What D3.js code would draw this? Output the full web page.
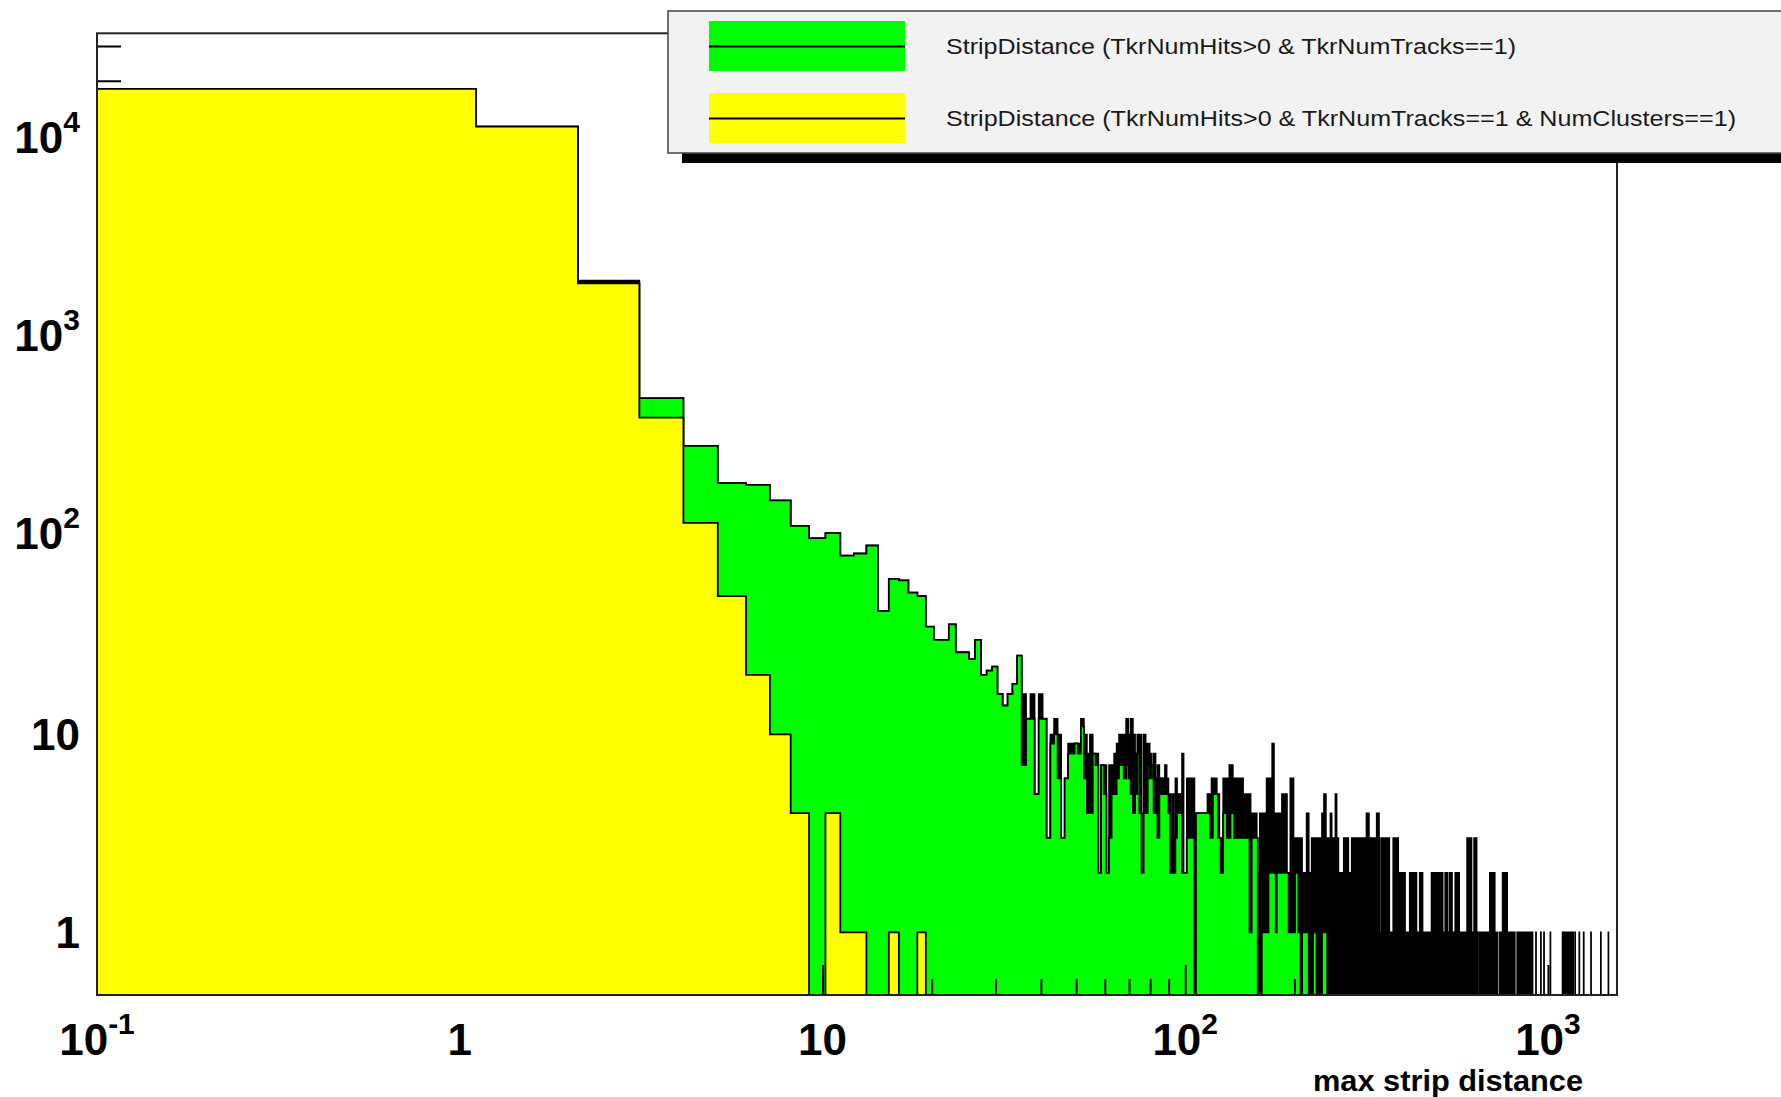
<!DOCTYPE html>
<html>
<head>
<meta charset="utf-8">
<script src="https://cdn.jsdelivr.net/npm/d3@7"></script>
<style>
  body { margin: 0; background: #fff; }
  svg { display: block; font-family: "Liberation Sans", Arial, Helvetica, sans-serif; }
</style>
</head>
<body>
<script>
const width = 1781, height = 1097;
const frame = { left: 97, right: 1617, top: 33.3, bottom: 995 };

// histogram binning (1536 bins) and axis ranges
const xMin = 0.1, xMax = 1550, nBins = 1536;
const binWidth = (xMax - xMin) / nBins;
const yMin = 0.483, yMax = 34770;

// counts bin by bin, starting at bin 0
const yellowCounts = [18200, 11740, 1900, 398, 117, 50, 20, 10, 4, 0, 4, 1, 1, 0, 0, 1, 0, 0, 1];

const greenCounts = [
  18200, 11740, 1900, 499, 287, 186, 182, 152, 113, 98,
  104, 80, 82, 90, 42, 61, 60, 52, 50, 35,
  30, 30, 36, 26, 26, 24, 30, 20, 21, 22,
  16, 14, 16, 18, 25, 7, 12, 12, 5, 12,
  12, 3, 9, 10, 6, 3, 6, 8, 8, 9,
  8, 11, 6, 4, 4, 8, 7, 2, 7, 5,
  2, 3, 5, 5, 6, 7, 7, 6, 7, 6,
  5, 4, 5, 8, 4, 2, 4, 4, 7, 6,
  7, 4, 4, 3, 6, 5, 6, 5, 5, 4,
  2, 3, 2, 3, 4, 4, 4, 2, 2, 2,
  3, 3
];

const blackCounts = [
  18200, 11740, 1960, 499, 287, 186, 182, 152, 113, 98,
  104, 80, 82, 90, 42, 61, 60, 52, 50, 35,
  30, 30, 36, 26, 26, 24, 30, 20, 21, 22,
  16, 14, 16, 18, 25, 16, 12, 16, 5, 16,
  12, 3, 10, 12, 10, 3, 6, 9, 9, 9,
  9, 12, 10, 8, 10, 8, 8, 2, 7, 7,
  2, 7, 7, 8, 9, 10, 10, 10, 12, 10,
  12, 10, 8, 10, 10, 2, 10, 9, 9, 8,
  7, 8, 6, 7, 6, 6, 6, 7, 6, 5,
  2, 5, 2, 6, 5, 5, 4, 8, 2, 2,
  6, 6
];

// higher bins as runs [firstBin, lastBin, count]
const greenRuns = [
  [102, 104, 3], [105, 105, 0], [106, 115, 4], [116, 117, 3], [118, 121, 5], [122, 123, 3],
  [124, 125, 2], [126, 128, 4], [129, 131, 3], [132, 134, 4], [135, 148, 3], [149, 150, 1],
  [151, 156, 3], [157, 160, 0], [161, 167, 1], [168, 175, 2], [176, 176, 1], [177, 180, 2],
  [181, 182, 3], [183, 190, 2], [191, 198, 1], [199, 202, 2], [203, 205, 1], [206, 207, 0],
  [208, 216, 1], [217, 222, 0], [223, 227, 1], [228, 235, 0], [236, 243, 1]
];

const blackRuns = [
  [102, 104, 6], [105, 113, 4], [114, 116, 5], [117, 120, 6], [121, 122, 5], [123, 125, 3],
  [126, 130, 6], [131, 133, 7], [134, 142, 6], [143, 149, 5], [150, 155, 4], [156, 158, 2],
  [159, 165, 4], [166, 171, 6], [172, 173, 9], [174, 182, 4], [183, 188, 5], [189, 192, 2],
  [193, 196, 6], [197, 207, 3], [208, 213, 2], [214, 216, 4], [217, 220, 2], [221, 235, 3],
  [236, 238, 4], [239, 241, 5], [242, 248, 3], [249, 250, 4], [251, 256, 3], [257, 258, 5],
  [259, 261, 3], [262, 270, 2], [271, 278, 3], [279, 284, 2], [285, 312, 3], [313, 317, 4],
  [318, 333, 3], [334, 338, 4], [339, 340, 3], [341, 344, 1], [345, 349, 3], [350, 351, 1],
  [352, 361, 3], [362, 370, 1], [371, 382, 3], [383, 399, 2], [400, 411, 1], [412, 429, 2],
  [430, 438, 1], [439, 446, 2], [447, 472, 1], [473, 507, 2], [508, 515, 1], [516, 522, 2],
  [523, 529, 1], [530, 538, 2], [539, 549, 1], [550, 563, 2], [564, 592, 1], [593, 609, 3],
  [610, 619, 1], [620, 629, 3], [630, 635, 1], [643, 684, 1], [685, 706, 2], [707, 719, 1],
  [730, 742, 1], [743, 764, 2], [765, 802, 1], [815, 898, 1], [918, 918, 1], [947, 947, 1],
  [966, 966, 1], [1006, 1006, 1], [1087, 1162, 1], [1177, 1177, 1], [1209, 1209, 1],
  [1243, 1243, 1], [1302, 1302, 1], [1386, 1386, 1], [1454, 1454, 1]
];

// axis ticks and labels: [mantissa, exponent]
const xTickValues = [0.1, 1, 10, 100, 1000];
const xTickLabels = [["10", "-1"], ["1", ""], ["10", ""], ["10", "2"], ["10", "3"]];
const yTickValues = [1, 10, 100, 1000, 10000];
const yTickLabels = [["1", ""], ["10", ""], ["10", "2"], ["10", "3"], ["10", "4"]];
const xTitle = "max strip distance";

const legendLabels = [
  "StripDistance (TkrNumHits>0 & TkrNumTracks==1)",
  "StripDistance (TkrNumHits>0 & TkrNumTracks==1 & NumClusters==1)"
];
const legendColors = ["#00ff00", "#ffff00"];

/*---------------------------- scales ----------------------------*/
var x = d3.scaleLog().domain([xMin, xMax]).range([frame.left, frame.right]);
var y = d3.scaleLog().domain([yMin, yMax]).range([frame.bottom, frame.top]);

var svg = d3.select("body").append("svg")
  .attr("width", width)
  .attr("height", height);

svg.append("rect").attr("width", width).attr("height", height).attr("fill", "#fff");

svg.append("clipPath").attr("id", "plotclip")
  .append("rect")
  .attr("x", frame.left).attr("y", frame.top)
  .attr("width", frame.right - frame.left).attr("height", frame.bottom - frame.top);

function expand(counts, runs) {
  var a = new Array(nBins).fill(0);
  counts.forEach((c, i) => a[i] = c);
  runs.forEach(r => { for (let i = r[0]; i <= r[1]; i++) a[i] = r[2]; });
  return a;
}

// ROOT style step outline, empty bins sit on the bottom of the frame
function stepPath(a) {
  var yb = frame.bottom;
  var level = c => c > 0 ? y(c) : yb;
  var d = "M" + x(xMin).toFixed(2) + "," + yb;
  for (let i = 0; i < nBins; i++) {
    var x0 = x(xMin + i * binWidth).toFixed(2), x1 = x(xMin + (i + 1) * binWidth).toFixed(2);
    var h = level(a[i]).toFixed(2);
    d += "L" + x0 + "," + h + "L" + x1 + "," + h;
  }
  return d + "L" + x(xMax).toFixed(2) + "," + yb + "Z";
}

var plot = svg.append("g").attr("clip-path", "url(#plotclip)");

// all tracks: drawn as dense black outline
plot.append("path")
  .attr("d", stepPath(expand(blackCounts, blackRuns)))
  .attr("fill", "#000")
  .attr("stroke", "#000")
  .attr("stroke-width", 1.6)
  .attr("stroke-linejoin", "miter");

plot.append("path")
  .attr("d", stepPath(expand(greenCounts, greenRuns)))
  .attr("fill", legendColors[0])
  .attr("stroke", "#000")
  .attr("stroke-width", 1.8);

/*---------------------------- ticks ----------------------------*/
var xMinor = [], yMinor = [];
[0.1, 1, 10, 100, 1000].forEach(dec => {
  for (let m = 2; m <= 9; m++) if (m * dec < xMax) xMinor.push(m * dec);
});
[0.1, 1, 10, 100, 1000, 10000].forEach(dec => {
  for (let m = 2; m <= 9; m++) if (m * dec > yMin && m * dec < yMax) yMinor.push(m * dec);
});

function tickGroup(axis) {
  return plot.append("g")
    .call(axis)
    .call(g => g.select(".domain").remove())
    .call(g => g.selectAll("line").attr("stroke", "#000").attr("stroke-width", 2));
}

tickGroup(d3.axisBottom(x).tickValues(xTickValues).tickSize(-30).tickFormat(""))
  .attr("transform", "translate(0," + frame.bottom + ")");
tickGroup(d3.axisBottom(x).tickValues(xMinor).tickSize(-16).tickFormat(""))
  .attr("transform", "translate(0," + frame.bottom + ")");
tickGroup(d3.axisLeft(y).tickValues(yTickValues).tickSize(-46).tickFormat(""))
  .attr("transform", "translate(" + frame.left + ",0)");
tickGroup(d3.axisLeft(y).tickValues(yMinor).tickSize(-24).tickFormat(""))
  .attr("transform", "translate(" + frame.left + ",0)");

// single cluster selection on top
plot.append("path")
  .attr("d", stepPath(expand(yellowCounts, [])))
  .attr("fill", legendColors[1])
  .attr("stroke", "#000")
  .attr("stroke-width", 1.8);

svg.append("rect")
  .attr("x", frame.left).attr("y", frame.top)
  .attr("width", frame.right - frame.left).attr("height", frame.bottom - frame.top)
  .attr("fill", "none")
  .attr("stroke", "#222")
  .attr("stroke-width", 2);

/*---------------------------- labels ----------------------------*/
function powerLabel(sel, lab) {
  sel.append("tspan").text(lab[0]);
  if (lab[1] !== "") {
    sel.append("tspan").attr("font-size", 30).attr("dy", -21).text(lab[1]);
  }
}

svg.append("g").selectAll("text")
  .data(xTickValues)
  .join("text")
  .attr("x", d => x(d))
  .attr("y", 1055)
  .attr("text-anchor", "middle")
  .attr("font-size", 44)
  .attr("font-weight", "bold")
  .attr("fill", "#000")
  .each(function (d, i) { powerLabel(d3.select(this), xTickLabels[i]); });

svg.append("g").selectAll("text")
  .data(yTickValues)
  .join("text")
  .attr("x", 80)
  .attr("y", (d, i) => y(d) + 16 - (yTickLabels[i][1] !== "" ? 3 : 0))
  .attr("text-anchor", "end")
  .attr("font-size", 44)
  .attr("font-weight", "bold")
  .attr("fill", "#000")
  .each(function (d, i) { powerLabel(d3.select(this), yTickLabels[i]); });

svg.append("text")
  .attr("x", 1583)
  .attr("y", 1091)
  .attr("text-anchor", "end")
  .attr("font-size", 30)
  .attr("font-weight", "bold")
  .attr("textLength", 270)
  .attr("lengthAdjust", "spacingAndGlyphs")
  .text(xTitle);

/*---------------------------- legend ----------------------------*/
var legend = svg.append("g");
legend.append("rect")
  .attr("x", 682).attr("y", 25).attr("width", 1200).attr("height", 138)
  .attr("fill", "#000");
legend.append("rect")
  .attr("x", 668).attr("y", 11).attr("width", 1200).attr("height", 142)
  .attr("fill", "#f2f2f2")
  .attr("stroke", "#444")
  .attr("stroke-width", 1.5);

var entries = legend.selectAll("g.entry")
  .data(legendLabels)
  .join("g")
  .attr("class", "entry")
  .attr("transform", (d, i) => "translate(0," + i * 72 + ")");

entries.append("rect")
  .attr("x", 709).attr("y", 21).attr("width", 196).attr("height", 50)
  .attr("fill", (d, i) => legendColors[i]);
entries.append("line")
  .attr("x1", 709).attr("x2", 905).attr("y1", 46.5).attr("y2", 46.5)
  .attr("stroke", "#000").attr("stroke-width", 2);
entries.append("text")
  .attr("x", 946).attr("y", 54)
  .attr("font-size", 22)
  .attr("fill", "#1a1a1a")
  .attr("textLength", (d, i) => i === 0 ? 570 : 790)
  .attr("lengthAdjust", "spacingAndGlyphs")
  .text(d => d);
</script>
</body>
</html>
